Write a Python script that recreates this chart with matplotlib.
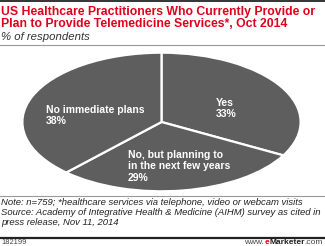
import numpy as np
import matplotlib.pyplot as plt

# data
categories = ['Yes', 'No, but planning to\nin the next few years', 'No immediate plans']
shares = [33, 29, 38]
# text anchors inside the ellipse (axes data units, left edge / vertical centre)
label_anchor = [(0.39, 0.19), (-0.24, -0.64), (-0.83, 0.09)]

title_lines = ['US Healthcare Practitioners Who Currently Provide or',
               'Plan to Provide Telemedicine Services*, Oct 2014']
subtitle = '% of respondents'
note_lines = ['Note: n=759; *healthcare services via telephone, video or webcam visits',
              'Source: Academy of Integrative Health & Medicine (AIHM) survey as cited in',
              'press release, Nov 11, 2014']
chart_id = '182199'

W, H = 325, 246
fig = plt.figure(figsize=(W / 100, H / 100), dpi=100)
fig.patch.set_facecolor('white')

def fx(px):
    return px / W

def fy(py):
    return 1 - py / H

# header
fig.add_artist(plt.Line2D([0, 1], [fy(0.7), fy(0.7)], color='#333333', lw=1.4))
for i, line in enumerate(title_lines):
    fig.text(fx(1), fy(12.5 + 11.3 * i), line, color='#e0001b', fontsize=8.8,
             fontweight='bold', family='Liberation Sans', va='center')
fig.text(fx(1), fy(37), subtitle, color='#333333', fontsize=8.2, style='italic',
         family='Liberation Sans', va='center')
fig.add_artist(plt.Line2D([0, 1], [fy(45), fy(45)], color='#999999', lw=0.8))

# pie, drawn as circle then stretched into an ellipse by the axes box
left, right, top, bottom = 21, 302, 52, 192
ax = fig.add_axes([fx(left), fy(bottom), fx(right - left), (bottom - top) / H])
wedges, _ = ax.pie(shares, startangle=90, counterclock=False,
                   colors=['#5e5e5e'] * len(shares),
                   wedgeprops=dict(edgecolor='white', linewidth=1.6))
ax.set_aspect('auto')
ax.set_xlim(-1.01, 1.01)
ax.set_ylim(-1.01, 1.01)
ax.axis('off')

for cat, val, (x, y) in zip(categories, shares, label_anchor):
    ax.text(x, y, f'{cat}\n{val}%', color='white', fontsize=7.5, fontweight='bold',
            family='Liberation Sans', ha='left', va='center', linespacing=1.15)

# footer
fig.add_artist(plt.Line2D([0, 1], [fy(195.5), fy(195.5)], color='#999999', lw=0.8))
for i, line in enumerate(note_lines):
    fig.text(fx(1), fy(202.5 + 9.8 * i), line, color='#222222', fontsize=6.8,
             style='italic', family='Liberation Sans', va='center')
fig.add_artist(plt.Line2D([0, 1], [fy(237.5), fy(237.5)], color='#222222', lw=1.6))
fig.text(fx(1), fy(242.5), chart_id, color='#444444', fontsize=5.4,
         family='Liberation Sans', va='center')

# coloured logo text, laid out from the right edge
renderer = fig.canvas.get_renderer()
parts = [('.com', '#444444', 'normal'), ('Marketer', '#222222', 'bold'),
         ('e', '#e0001b', 'bold'), ('www.', '#444444', 'normal')]
x_px = 323
for txt, col, wt in parts:
    t = fig.text(fx(x_px), fy(242.5), txt, color=col, fontsize=6.0, fontweight=wt,
                 family='Liberation Sans', va='center', ha='right')
    x_px -= t.get_window_extent(renderer).width

fig.savefig('out.png', dpi=100, facecolor='white')
